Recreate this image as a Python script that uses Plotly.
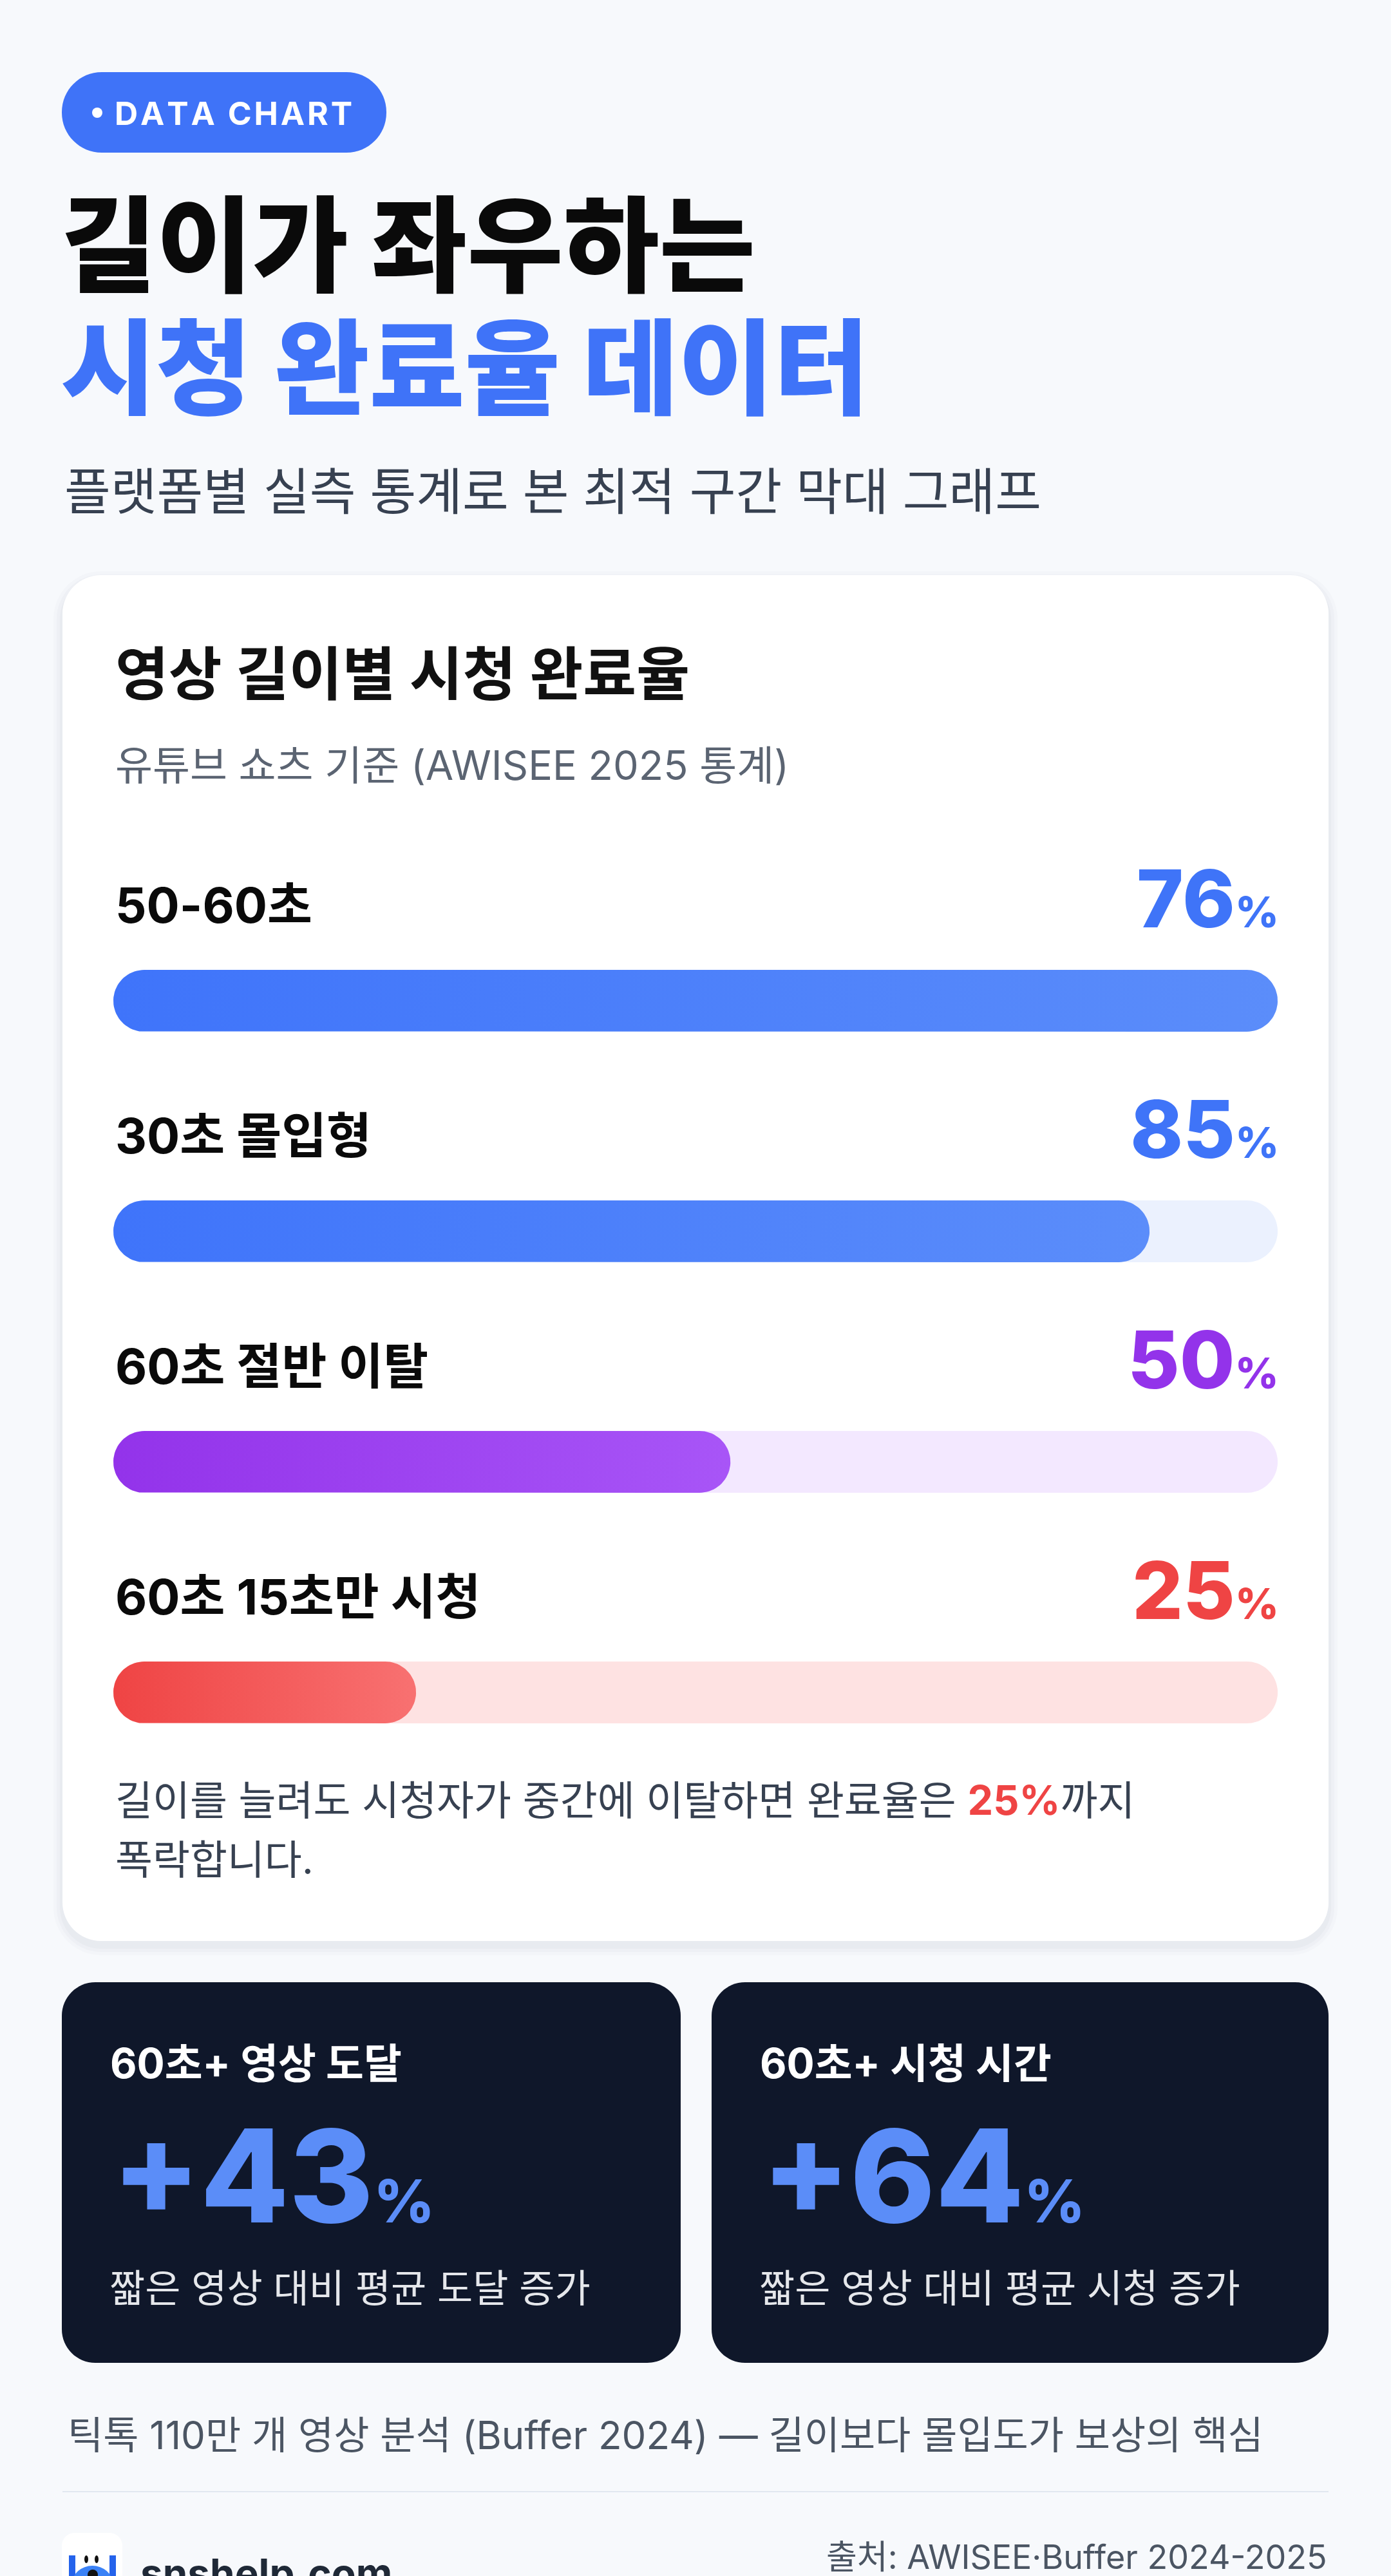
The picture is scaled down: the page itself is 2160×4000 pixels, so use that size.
import numpy as np
import plotly.graph_objects as go

# ---------------- data ----------------
row_labels = ["50-60초", "30초 몰입형", "60초 절반 이탈", "60초 15초만 시청"]
row_values = [76, 85, 50, 25]
row_fill_pct = [100, 89, 53, 26]
value_colors = ["#3F74F8", "#3F74F8", "#9333EA", "#EF4444"]
grad_start = ["#3F74FA", "#3F74FA", "#9333EA", "#EF4444"]
grad_end = ["#5B8DFA", "#5B8DFA", "#A855F7", "#F87171"]
track_colors = ["#EBF1FE", "#EBF1FE", "#F3E8FF", "#FEE2E2"]

stat_titles = ["60초+ 영상 도달", "60초+ 시청 시간"]
stat_values = ["+43", "+64"]
stat_desc = ["짧은 영상 대비 평균 도달 증가", "짧은 영상 대비 평균 시청 증가"]

badge_text = "DATA CHART"
title_1 = "길이가 좌우하는"
title_2 = "시청 완료율 데이터"
subtitle = "플랫폼별 실측 통계로 본 최적 구간 막대 그래프"
card_title = "영상 길이별 시청 완료율"
card_sub = "유튜브 쇼츠 기준 (AWISEE 2025 통계)"
note_1a = "길이를 늘려도 시청자가 중간에 이탈하면 완료율은 "
note_1b = "25%"
note_1c = "까지"
note_2 = "폭락합니다."
footer_note = "틱톡 110만 개 영상 분석 (Buffer 2024) — 길이보다 몰입도가 보상의 핵심"
brand = "snshelp.com"
source = "출처: AWISEE·Buffer 2024-2025"

W, H = 2160, 4000
FONT = "Inter, 'Noto Sans CJK KR', 'Noto Sans', sans-serif"
BG = "#F7F9FC"


def rr_path(x0, y0, x1, y1, r):
    k = 0.5523 * r
    return (f"M{x0+r},{y0} L{x1-r},{y0} C{x1-r+k},{y0} {x1},{y0+r-k} {x1},{y0+r} "
            f"L{x1},{y1-r} C{x1},{y1-r+k} {x1-r+k},{y1} {x1-r},{y1} "
            f"L{x0+r},{y1} C{x0+r-k},{y1} {x0},{y1-r+k} {x0},{y1-r} "
            f"L{x0},{y0+r} C{x0},{y0+r-k} {x0+r-k},{y0} {x0+r},{y0} Z")


def pill_xy(x0, x1, yc, h, n=40):
    r = h / 2
    t1 = np.linspace(-np.pi / 2, np.pi / 2, n)
    t2 = np.linspace(np.pi / 2, 3 * np.pi / 2, n)
    xs = list(x1 - r + r * np.cos(t1)) + list(x0 + r + r * np.cos(t2))
    ys = list(yc + r * np.sin(t1)) + list(yc + r * np.sin(t2))
    xs.append(xs[0]); ys.append(ys[0])
    return xs, ys


shapes = []
annots = []


def ann(x, y, text, size, color, weight=400, xanchor="left", yanchor="middle"):
    annots.append(dict(x=x, y=y, xref="x", yref="y", text=text, showarrow=False,
                       xanchor=xanchor, yanchor=yanchor,
                       font=dict(family=FONT, size=size, color=color, weight=weight)))


def rect_shape(x0, y0, x1, y1, r, color):
    shapes.append(dict(type="path", path=rr_path(x0, y0, x1, y1, r), xref="x", yref="y",
                       fillcolor=color, line=dict(width=0), layer="below"))


# badge
rect_shape(96, 112, 600, 237, 62, "#3F73F8")
shapes.append(dict(type="circle", xref="x", yref="y", x0=143, x1=159, y0=167, y1=183,
                   fillcolor="white", line=dict(width=0), layer="above"))
ann(176, 176, "\u200a".join(list(badge_text)), 50, "white", 700)

# titles
ann(92, 382, title_1, 162, "#0A0A0A", 800)
ann(92, 572, title_2, 161, "#3F73F8", 800)
ann(98, 763, subtitle, 78, "#374151", 400)

# white card with soft shadow
for i, a in enumerate([0.015, 0.02, 0.025]):
    g = 14 - i * 5
    rect_shape(97 - g, 893 - g + 8, 2063 + g, 3014 + g + 8, 60 + g, f"rgba(15,23,42,{a})")
rect_shape(97, 893, 2063, 3014, 60, "#FFFFFF")

ann(177, 1046, card_title, 90, "#111111", 700)
ann(177, 1188, card_sub, 63, "#5B6472", 400)

# rows
track_x0, track_x1 = 176, 1984
label_y0, row_step, bar_off, bar_h = 1405, 358, 149, 96
fig = go.Figure()
for i, (lab, val, fp) in enumerate(zip(row_labels, row_values, row_fill_pct)):
    ly = label_y0 + i * row_step
    by = ly + bar_off
    ann(177, ly, lab, 76, "#0A0A0A", 700)
    ann(track_x1 + 4, ly - 10,
        f"{val}<span style='font-size:66px'>%</span>", 124, value_colors[i], 800,
        xanchor="right")
    # track
    tx, ty = pill_xy(track_x0, track_x1, by, bar_h)
    path = "M" + " L".join(f"{a:.1f},{b:.1f}" for a, b in zip(tx, ty)) + " Z"
    shapes.append(dict(type="path", path=path, xref="x", yref="y",
                       fillcolor=track_colors[i], line=dict(width=0), layer="below"))
    # filled bar
    x_end = track_x0 + fp / 100.0 * (track_x1 - track_x0)
    bx, byy = pill_xy(track_x0, x_end, by, bar_h)
    fig.add_trace(go.Scatter(
        x=bx, y=byy, mode="lines", fill="toself", line=dict(width=0, color=grad_start[i]),
        fillgradient=dict(type="horizontal",
                          colorscale=[[0, grad_start[i]], [1, grad_end[i]]]),
        hoverinfo="skip", showlegend=False))

# note
ann(177, 2795, note_1a + f"<span style='color:#EF4444'><b>{note_1b}</b></span>" + note_1c,
    63, "#374151", 400)
ann(177, 2887, note_2, 63, "#374151", 400)

# dark stat cards
card_x = [(96, 1057), (1105, 2063)]
for (x0, x1), t, v, d in zip(card_x, stat_titles, stat_values, stat_desc):
    rect_shape(x0, 3078, x1, 3669, 52, "#0F172A")
    ann(x0 + 73, 3203, t, 64, "#FFFFFF", 700)
    ann(x0 + 76, 3378, f"{v}<span style='font-size:92px'>%</span>", 200, "#5B8DF8", 800)
    ann(x0 + 72, 3553, d, 60, "#E5E7EB", 400)

# footer
ann(103, 3781, footer_note, 60, "#4B5563", 400)
shapes.append(dict(type="line", xref="x", yref="y", x0=97, x1=2063, y0=3869, y1=3869,
                   line=dict(color="#E2E8F0", width=2), layer="below"))

# brand icon (partially visible, cut by the bottom edge as in the reference)
rect_shape(96, 3933, 190, 4030, 20, "#FFFFFF")
shapes.append(dict(type="line", xref="x", yref="y", x0=112, x1=112, y0=3968, y1=4000,
                   line=dict(color="#2563EB", width=10)))
shapes.append(dict(type="line", xref="x", yref="y", x0=175, x1=175, y0=3968, y1=4000,
                   line=dict(color="#2563EB", width=10)))
shapes.append(dict(type="circle", xref="x", yref="y", x0=112, x1=175, y0=3984, y1=4040,
                   fillcolor="#3B82F6", line=dict(width=0)))
for ex in (131, 147):
    shapes.append(dict(type="circle", xref="x", yref="y", x0=ex, x1=ex + 6, y0=3968,
                       y1=3980, fillcolor="#111111", line=dict(width=0)))
shapes.append(dict(type="circle", xref="x", yref="y", x0=136, x1=152, y0=3990, y1=4006,
                   fillcolor="#111111", line=dict(width=0)))

ann(216, 3995, brand, 62, "#1F2937", 700)
ann(2063, 3970, source, 52, "#4B5563", 400, xanchor="right")

fig.update_layout(
    width=W, height=H, margin=dict(l=0, r=0, t=0, b=0),
    paper_bgcolor=BG, plot_bgcolor=BG,
    xaxis=dict(range=[0, W], visible=False, fixedrange=True),
    yaxis=dict(range=[H, 0], visible=False, fixedrange=True),
    shapes=shapes, annotations=annots, showlegend=False,
)
fig.write_html("out.html", config={"displayModeBar": False, "staticPlot": True})
